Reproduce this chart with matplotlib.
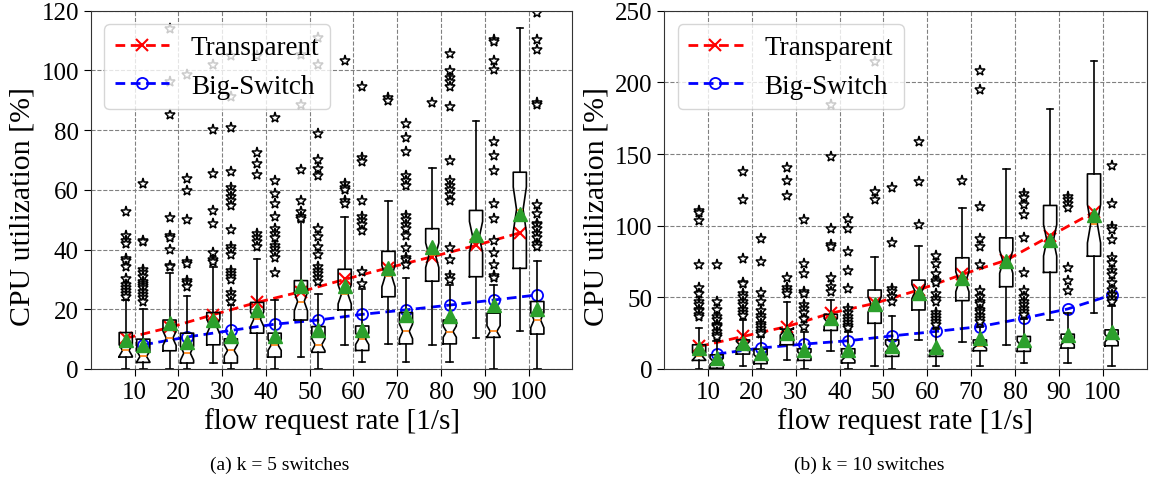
import matplotlib
matplotlib.use("Agg")
import matplotlib.pyplot as plt
import numpy as np

# ---------------- data ----------------
rates = [10, 20, 30, 40, 50, 60, 70, 80, 90, 100]
tick_labels = ["10", "20", "30", "40", "50", "60", "70", "80", "90", "100"]
n_samples = 45  # samples per box (used for notch width)

# k = 5 switches, Transparent
k5_t_q1 = [4.0, 6.1, 8.1, 12.0, 16.4, 19.8, 24.2, 29.4, 30.9, 33.7]
k5_t_med = [6.2, 10.3, 14.2, 16.7, 22.6, 25.0, 31.1, 38.1, 44.2, 53.4]
k5_t_q3 = [12.2, 16.4, 18.9, 22.3, 29.6, 33.4, 39.4, 47.0, 53.1, 65.9]
k5_t_lo = [0.0, 0.0, 2.0, 0.0, 4.0, 8.1, 8.4, 8.1, 10.3, 12.6]
k5_t_hi = [23.1, 32.0, 34.2, 37.0, 49.5, 50.9, 56.4, 67.2, 83.0, 114.2]
k5_t_mean = [9.8, 15.3, 16.4, 19.8, 27.9, 27.9, 33.9, 40.9, 44.8, 52.0]
k5_t_fliers = [
    [52.5, 44.5, 43, 42, 37, 36, 34, 30, 28, 27, 26, 25, 24],
    [114, 96, 85, 50.5, 44.5, 44, 40, 34.5, 34],
    [101.7, 80, 65.3, 53, 48.7, 38.7, 36.4, 35.8],
    [104.8, 72.3, 68.8, 65, 45.3, 43.9, 42.6, 41],
    [105.3, 88.3, 66.7, 56.4, 52.6, 51, 50.3],
    [103.3, 62, 60.5, 59.8, 56.4, 55.3],
    [90.9, 89.8],
    [89],
    [],
    [],
]
# k = 5 switches, Big-Switch
k5_b_q1 = [2.2, 2.0, 2.0, 4.0, 5.6, 6.2, 8.4, 8.4, 10.6, 11.7]
k5_b_med = [4.2, 5.3, 6.2, 8.1, 8.1, 10.1, 12.6, 12.5, 12.6, 16.4]
k5_b_q3 = [10.0, 12.0, 10.1, 12.0, 14.2, 14.4, 18.9, 16.4, 18.7, 22.6]
k5_b_lo = [0.0, 0.0, 0.0, 0.0, 0.0, 2.2, 2.2, 2.2, 0.0, 0.0]
k5_b_hi = [20.1, 24.6, 21.5, 23.1, 25.0, 26.8, 30.6, 28.2, 28.1, 36.1]
k5_b_mean = [8.1, 9.2, 10.9, 10.9, 13.1, 13.1, 18.1, 17.6, 21.4, 20.1]
k5_b_fliers = [
    [61.9, 42.8, 42.4, 33.1, 32, 30.9, 29.2, 28.4, 27.9, 27, 25.9, 24.8, 23.7, 22.3],
    [98.3, 63.7, 59.5, 50, 35.7, 35, 29.6, 28.7, 27.6],
    [104.8, 91.1, 80.6, 66.1, 60.6, 59.3, 57.6, 56.2, 54.6, 46.4, 40.9, 40, 38.1,
     32.8, 31.9, 30.8, 29.8, 25.3, 24.2, 22.3],
    [84, 62.8, 58.7, 55.3, 50.9, 47, 45.3, 44, 41.2, 40.3, 38.7, 37.3, 32],
    [110.9, 101.7, 78.8, 70, 67, 64.8, 47, 44.1, 41, 38.3, 34.2, 32.8, 31.7, 30.4, 29.1],
    [94.6, 70.6, 69.2, 56.4, 50.9, 49.4, 48.1, 46.3, 32.6, 28.3],
    [82.2, 77.2, 72.6, 64.8, 63.1, 61.4, 51.4, 49.8, 48.1, 47, 44.6, 40.6, 37.3, 36.6, 34.9],
    [105.6, 99.8, 97.6, 96, 94.4, 87.9, 69.8, 62.8, 61.4, 59.9, 58.3, 56.4, 40.6, 36.6, 31.1, 29.8],
    [110.1, 109.4, 103.3, 100.3, 75.9, 71.4, 66.4, 55.1, 50.3, 42.8, 38.9, 34.8, 31.1, 30.6],
    [119.2, 110.1, 107, 89.2, 88.3, 54.8, 52, 48.7, 48.1, 47, 45.3, 43.9, 42, 41],
]
k5_trans_line = [10.3, 13.9, 18.2, 22.3, 25.9, 30.0, 33.9, 37.6, 41.4, 45.6]
k5_big_line = [8.1, 10.7, 12.9, 15.0, 16.4, 18.3, 19.8, 21.4, 23.1, 24.8]

# k = 10 switches, Transparent
k10_t_q1 = [6.0, 10.4, 16.9, 26.9, 31.9, 41.2, 47.7, 57.4, 67.4, 78.7]
k10_t_med = [8.8, 16.9, 26.2, 32.6, 45.0, 54.0, 60.9, 74.8, 89.8, 101.4]
k10_t_q3 = [16.9, 20.3, 27.8, 38.2, 55.1, 62.0, 77.6, 91.5, 114.1, 136.1]
k10_t_lo = [0.0, 1.9, 6.5, 12.3, 1.9, 20.3, 18.5, 16.9, 34.2, 38.9]
k10_t_hi = [28.5, 34.2, 47.0, 48.1, 78.2, 85.9, 112.3, 139.6, 181.3, 214.8]
k10_t_mean = [14.6, 18.4, 25.0, 35.7, 45.1, 52.8, 63.7, 75.2, 89.8, 107.6]
k10_t_fliers = [
    [110.2, 108.6, 103.2, 72.4, 56.7, 52.3, 47, 44.5, 41.5, 40.3, 37.9, 36.3],
    [137.3, 117.6, 76.4, 59.7, 59, 52.3, 50.2, 46.5, 44.5, 41.2, 39, 36.9],
    [140.3, 131.2, 120.6, 63.7, 56.3, 54.2, 52.3],
    [184, 147.7, 97.9, 86.8, 85, 63.5, 57.5, 53.5],
    [214.4, 123.8, 117.6],
    [158.1, 130.8, 100.2],
    [131.5],
    [],
    [],
    [],
]
# k = 10 switches, Big-Switch
k10_b_q1 = [0.5, 3.7, 6.0, 4.2, 8.8, 8.8, 12.7, 12.3, 14.6, 16.2]
k10_b_med = [5.3, 7.6, 9.9, 8.3, 14.6, 11.0, 16.2, 16.9, 19.2, 21.5]
k10_b_q3 = [9.9, 13.9, 14.1, 14.1, 20.3, 13.0, 20.3, 22.7, 24.3, 27.3]
k10_b_lo = [0.0, 0.0, 0.0, 0.0, 0.0, 2.3, 2.3, 4.2, 4.2, 2.3]
k10_b_hi = [19.2, 22.0, 26.0, 26.0, 37.0, 28.0, 29.0, 34.9, 38.9, 44.0]
k10_b_mean = [7.6, 11.1, 13.0, 13.0, 15.8, 15.1, 21.5, 20.3, 23.8, 25.5]
k10_b_fliers = [
    [72.4, 47, 41.5, 36, 34.5, 30.9, 30, 29, 26, 24, 22.5],
    [91, 74.8, 52.8, 46.5, 40.3, 37, 34.8, 31.7, 30, 28, 26, 24.5],
    [103.7, 73.5, 66, 53.5, 52, 44.5, 42, 39, 35, 29],
    [105, 97.5, 81.9, 68.4, 55.7, 42, 39, 36, 34.5, 32, 30, 28.5],
    [126.4, 88.2, 55.7, 54, 50.2, 47],
    [79, 73.5, 66, 61.3, 59.7, 52.3, 49, 46.5, 39, 37, 35, 33, 31],
    [207.8, 194.7, 113, 91, 85, 72.4, 54.2, 50.2, 47, 45, 41.2, 40, 37, 35, 33],
    [122.2, 119, 114.6, 107.6, 91.5, 66.7, 54.2, 50.2, 47, 44.5, 42, 40, 38],
    [119.9, 117.6, 115, 112, 70.6, 61.3, 54.2],
    [141.9, 114.8, 99.1, 97, 89.8, 77.1, 74, 68.4, 65.3, 60.2, 55, 51.6, 49, 46.5],
]
k10_trans_line = [15.7, 22.7, 29.6, 38.9, 45.8, 55.1, 66.0, 75.9, 92.8, 109.5]
k10_big_line = [10.4, 14.6, 17.4, 19.7, 23.1, 26.2, 29.6, 35.4, 41.9, 51.6]

# ---------------- style ----------------
SERIF = ["Liberation Serif", "DejaVu Serif"]
plt.rcParams["font.family"] = SERIF


def make_stats(q1, med, q3, lo, hi, mean, fliers):
    out = []
    for a, m, b, l, h, mu, f in zip(q1, med, q3, lo, hi, mean, fliers):
        ci = 1.57 * (b - a) / np.sqrt(n_samples)
        out.append(dict(q1=a, med=m, q3=b, whislo=l, whishi=h, mean=mu,
                        fliers=np.array(f, dtype=float), cilo=m - ci, cihi=m + ci))
    return out


def draw_panel(ax, stats_t, stats_b, line_t, line_b, ymax, yticks):
    base = np.arange(1, len(rates) + 1)
    pos_t = base - 0.2
    pos_b = base + 0.2
    ax.plot(pos_t, line_t, linestyle="--", color="red", marker="x", lw=2,
            ms=9, mew=1.5, dashes=(3.5, 2), label="Transparent", zorder=2)
    ax.plot(pos_b, line_b, linestyle="--", color="blue", marker="o", lw=2,
            ms=8, mfc="none", mew=1.3, dashes=(3.5, 2), label="Big-Switch", zorder=2)
    common = dict(widths=0.3, shownotches=True, showmeans=True, manage_ticks=False,
                  boxprops=dict(color="black", lw=1.2),
                  whiskerprops=dict(color="black", lw=1.2),
                  capprops=dict(color="black", lw=1.2),
                  medianprops=dict(color="#ff7f0e", lw=1.2),
                  meanprops=dict(marker="^", markerfacecolor="#2ca02c",
                                 markeredgecolor="#2ca02c", markersize=10),
                  flierprops=dict(marker="*", markerfacecolor="white",
                                  markeredgecolor="black", markersize=8,
                                  markeredgewidth=1.1, linestyle="none"))
    ax.bxp(stats_t, positions=pos_t, **common)
    ax.bxp(stats_b, positions=pos_b, **common)
    ax.set_xlim(0, 11)
    ax.set_ylim(0, ymax)
    ax.set_xticks(base)
    ax.set_xticklabels(tick_labels)
    ax.set_yticks(yticks)
    ax.tick_params(labelsize=18, length=5)
    ax.grid(True, linestyle="--", color="gray", lw=0.8)
    ax.set_axisbelow(True)
    for s in ax.spines.values():
        s.set_color("#333333")
    ax.set_xlabel("flow request rate [1/s]", fontsize=21, labelpad=3)
    ax.set_ylabel("CPU utilization [%]", fontsize=21.5, labelpad=4)
    ax.yaxis.label.set_y(0.455)
    leg = ax.legend(loc="upper left", fontsize=19.5)
    leg.set_zorder(10)


fig = plt.figure(figsize=(11.5, 4.81), dpi=100)
ax1 = fig.add_axes([0.0789, 0.2308, 0.4188, 0.7449])
ax2 = fig.add_axes([0.5774, 0.2308, 0.4197, 0.7449])

draw_panel(ax1,
           make_stats(k5_t_q1, k5_t_med, k5_t_q3, k5_t_lo, k5_t_hi, k5_t_mean, k5_t_fliers),
           make_stats(k5_b_q1, k5_b_med, k5_b_q3, k5_b_lo, k5_b_hi, k5_b_mean, k5_b_fliers),
           k5_trans_line, k5_big_line, 120, [0, 20, 40, 60, 80, 100, 120])
draw_panel(ax2,
           make_stats(k10_t_q1, k10_t_med, k10_t_q3, k10_t_lo, k10_t_hi, k10_t_mean, k10_t_fliers),
           make_stats(k10_b_q1, k10_b_med, k10_b_q3, k10_b_lo, k10_b_hi, k10_b_mean, k10_b_fliers),
           k10_trans_line, k10_big_line, 250, [0, 50, 100, 150, 200, 250])

fig.text(280 / 1150, 1 - 465 / 481, "(a) k = 5 switches", ha="center", va="center",
         fontsize=14)
fig.text(869 / 1150, 1 - 465 / 481, "(b) k = 10 switches", ha="center", va="center",
         fontsize=14)

fig.savefig("out.png", dpi=100)
